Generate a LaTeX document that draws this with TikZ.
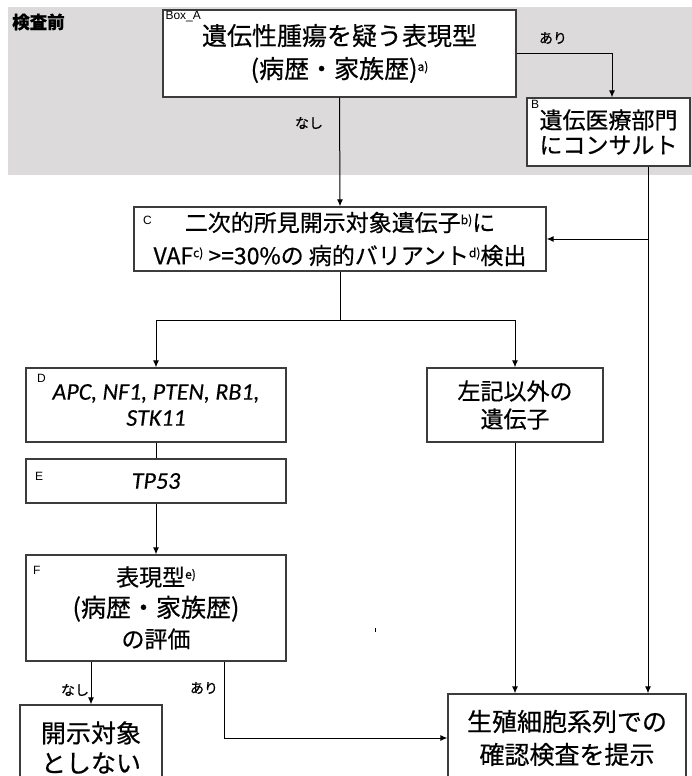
\documentclass[tikz,border=0pt]{standalone}
\usepackage{fontspec}
\setmainfont{Noto Sans CJK JP}[FakeBold=0.5]
\newfontfamily\latf{Carlito}[FakeBold=0.3]
\newfontfamily\arialf{Liberation Sans}
\usetikzlibrary{arrows.meta,calc}
\newcommand{\supr}[1]{\raisebox{7pt}{\fontsize{12}{12}\selectfont #1}}
\definecolor{bggray}{RGB}{220,218,218}
\definecolor{bord}{RGB}{60,60,60}
\tikzset{
  box/.style={draw=bord, line width=1.3pt, fill=white, align=center, inner sep=0pt},
  arr/.style={line width=1pt, -{Latex[length=7pt,width=6pt]}},
  ln/.style={line width=1pt},
  lab/.style={font=\fontsize{14}{14}\selectfont, inner sep=0pt},
  corner/.style={font=\arialf\fontsize{12}{12}\selectfont, inner sep=0pt, anchor=north west},
}
\begin{document}
\begin{tikzpicture}[x=1pt,y=-1pt]
\useasboundingbox (0,0) rectangle (692,776);
\fill[bggray] (8,7) rectangle (692,175);
\node[inner sep=0pt, anchor=west, font=\bfseries\fontsize{17.5}{17.5}\selectfont] (pre) at (12,22) {検査前};

\node[box, minimum width=353pt, minimum height=87pt, font=\fontsize{25}{33}\selectfont] (A) at (339.5,53.5)
  {遺伝性腫瘍を疑う表現型\\(病歴・家族歴)\supr{a)}};
\node[corner] (Alab) at ([shift={(3pt,-2pt)}]A.north west) {Box\_A};

\node[box, minimum width=163pt, minimum height=68pt, font=\fontsize{23}{25}\selectfont] (B) at (608.5,132)
  {遺伝医療部門\\にコンサルト};
\node[corner] (Blab) at (531,100) {B};

\node[box, minimum width=412pt, minimum height=64pt, font=\fontsize{23}{33}\selectfont] (C) at (340,239)
  {二次的所見開示対象遺伝子\supr{b)}に\\VAF\supr{c)} >=30\%の 病的バリアント\supr{d)}検出};
\node[corner] (Clab) at (143,216) {C};

\node[box, minimum width=260pt, minimum height=74pt, font=\latf\itshape\fontsize{24}{26}\selectfont] (D) at (156,405)
  {APC, NF1, PTEN, RB1,\\STK11};
\node[corner] (Dlab) at (37,374) {D};

\node[box, minimum width=260pt, minimum height=44pt, font=\latf\itshape\fontsize{24}{26}\selectfont] (E) at (156,481)
  {TP53};
\node[corner] (Elab) at (35,472) {E};

\node[box, minimum width=260pt, minimum height=106pt, font=\fontsize{23}{31}\selectfont] (F) at (156,608)
  {表現型\supr{e)}\\{\fontsize{25}{31}\selectfont (病歴・家族歴)}\\の評価};
\node[corner] (Flab) at (33,566) {F};

\node[box, minimum width=176pt, minimum height=74pt, font=\fontsize{23}{28}\selectfont] (O) at (515,405)
  {左記以外の\\遺伝子};

\node[box, minimum width=142pt, minimum height=85pt, font=\fontsize{25}{30}\selectfont] (N) at (91,747.5)
  {開示対象\\としない};

\node[box, minimum width=238pt, minimum height=88pt, font=\fontsize{25}{33}\selectfont] (G) at (567,738)
  {生殖細胞系列での\\確認検査を提示};

% connectors
\coordinate (rx) at (648,0);
\coordinate (split) at (340,320);
\draw[arr] (A.east) -| ([xshift=3.5pt]B.north);
\node[lab] (ari1) at (553,38) {あり};
\draw[arr] (A.south) -- (C.north);
\node[lab] (nashi1) at (309,123) {なし};
\draw[arr] (B.south -| rx) -- (G.north -| rx);
\draw[arr] (C.east -| rx) -- (C.east);
\draw[ln] (C.south) -- (split);
\draw[arr] (split) -| (D.north);
\draw[arr] (split) -| (O.north);
\draw[ln] (D.south) -- (E.north);
\draw[arr] (E.south) -- (F.north);
\draw[arr] (F.south -| N.north) -- (N.north);
\node[lab] (nashi2) at (75,690) {なし};
\draw[arr] ([xshift=68pt]F.south) |- (G.west);
\node[lab] (ari2) at (204,688) {あり};
\draw[arr] (O.south) -- (O.south |- G.north);
\draw[line width=0.9pt] (375,628) -- (375,632);
\end{tikzpicture}
\end{document}
